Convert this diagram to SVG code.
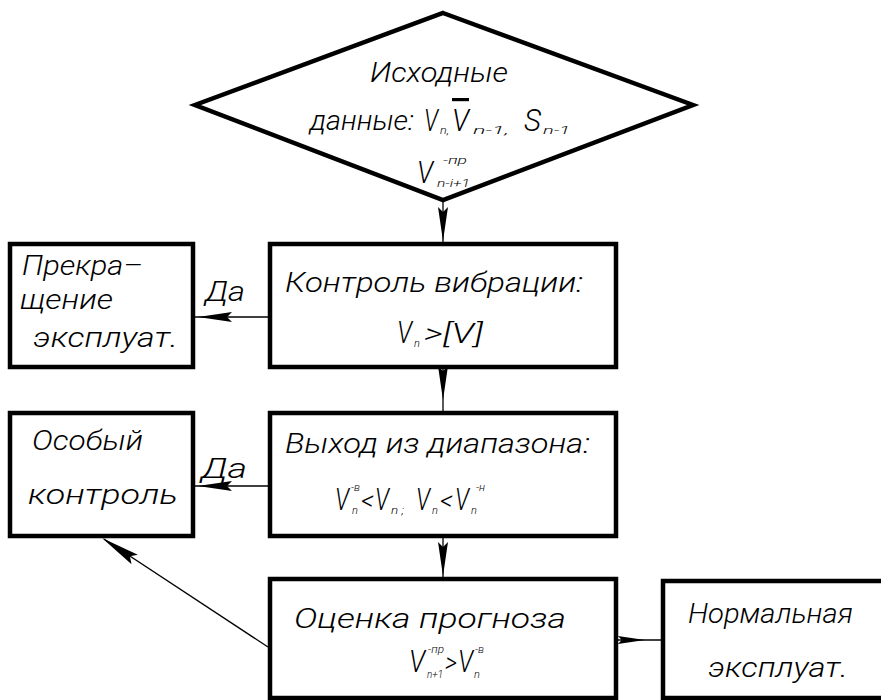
<svg xmlns="http://www.w3.org/2000/svg" xmlns:xlink="http://www.w3.org/1999/xlink" width="881" height="700" viewBox="0 0 881 700">
<style>
.box{fill:#fff;stroke:#000;stroke-width:4.5;stroke-linejoin:miter}
.t{font-family:Roboto,"Liberation Sans","DejaVu Sans",sans-serif;font-weight:300;font-style:italic;font-size:28px;fill:#000}
.v{font-family:Roboto,"Liberation Sans","DejaVu Sans",sans-serif;font-weight:300;font-style:italic;font-size:32px;fill:#000}
.sub{font-family:Roboto,"Liberation Sans","DejaVu Sans",sans-serif;font-weight:300;font-style:italic;font-size:11px;fill:#000}
.ln{stroke:#000;stroke-width:1.3;fill:none}
</style>
<defs>
<path id="ah" d="M0,0 L-34,-5 L-29,0 L-34,5 Z" fill="#000"/>
</defs>
<rect width="881" height="700" fill="#fff"/>

<g id="connectors">
<line class="ln" x1="443" y1="200" x2="443" y2="244"/>
<use xlink:href="#ah" transform="translate(443,241) rotate(90)"/>
<line class="ln" x1="443" y1="367" x2="443" y2="413"/>
<use xlink:href="#ah" transform="translate(443,400) rotate(90)"/>
<line class="ln" x1="443" y1="536" x2="443" y2="579"/>
<use xlink:href="#ah" transform="translate(443,576) rotate(90)"/>
<line class="ln" x1="270" y1="317" x2="193" y2="317"/>
<use xlink:href="#ah" transform="translate(198,317) rotate(180)"/>
<line class="ln" x1="270" y1="486" x2="193" y2="486"/>
<use xlink:href="#ah" transform="translate(198,486) rotate(180)"/>
<line class="ln" x1="616" y1="640" x2="663" y2="640"/>
<use xlink:href="#ah" transform="translate(645,640) scale(0.8)"/>
<line class="ln" x1="268" y1="647" x2="104" y2="539"/>
<use xlink:href="#ah" transform="translate(102,538) rotate(213.3) scale(1.15)"/>
<text class="t" x="205" y="301" textLength="40" lengthAdjust="spacingAndGlyphs">Да</text>
<text class="t" x="201" y="478" textLength="46" lengthAdjust="spacingAndGlyphs">Да</text>
</g>

<g id="start">
<polygon class="box" points="443,13 693,105 443,200 195,105"/>
<text class="t" x="370" y="82" textLength="138" lengthAdjust="spacingAndGlyphs">Исходные</text>
<text class="t" x="310" y="130" textLength="104" lengthAdjust="spacingAndGlyphs">данные:</text>
<text class="v" x="424" y="131" textLength="14" lengthAdjust="spacingAndGlyphs">V</text>
<text class="sub" x="440" y="134" textLength="9" lengthAdjust="spacingAndGlyphs">n,</text>
<text class="v" x="452" y="131" textLength="17" lengthAdjust="spacingAndGlyphs" style="text-decoration:overline">V</text>
<text class="sub" x="473" y="134" textLength="36" lengthAdjust="spacingAndGlyphs">n-1,</text>
<text class="v" x="524" y="131" textLength="17" lengthAdjust="spacingAndGlyphs">S</text>
<text class="sub" x="543" y="134" textLength="27" lengthAdjust="spacingAndGlyphs">n-1</text>
<text class="v" x="417" y="183" textLength="16" lengthAdjust="spacingAndGlyphs">V</text>
<text class="sub" x="443" y="164" textLength="24" lengthAdjust="spacingAndGlyphs">-пр</text>
<text class="sub" x="437" y="187" textLength="33" lengthAdjust="spacingAndGlyphs">n-i+1</text>
</g>

<g id="vibration">
<rect class="box" x="270" y="244" width="346" height="123"/>
<text class="t" x="285" y="292" textLength="298" lengthAdjust="spacingAndGlyphs">Контроль вибрации:</text>
<text class="v" x="397" y="343" textLength="15" lengthAdjust="spacingAndGlyphs">V</text>
<text class="sub" x="414" y="347">n</text>
<text class="t" x="424" y="343" textLength="59" lengthAdjust="spacingAndGlyphs">&gt;[V]</text>
</g>

<g id="stop">
<rect class="box" x="10" y="244" width="183" height="123"/>
<text class="t" x="22" y="275" textLength="121" lengthAdjust="spacingAndGlyphs">Прекра–</text>
<text class="t" x="20" y="309" textLength="93" lengthAdjust="spacingAndGlyphs">щение</text>
<text class="t" x="33" y="347" textLength="145" lengthAdjust="spacingAndGlyphs">эксплуат.</text>
</g>

<g id="range">
<rect class="box" x="270" y="413" width="346" height="123"/>
<text class="t" x="285" y="453" textLength="305" lengthAdjust="spacingAndGlyphs">Выход из диапазона:</text>
<text class="v" x="335" y="510" textLength="14" lengthAdjust="spacingAndGlyphs">V</text>
<text class="sub" x="351" y="491">-в</text>
<text class="sub" x="352" y="514">n</text>
<text class="t" x="361" y="510" textLength="13" lengthAdjust="spacingAndGlyphs">&lt;</text>
<text class="v" x="375" y="510" textLength="14" lengthAdjust="spacingAndGlyphs">V</text>
<text class="sub" x="391" y="514" textLength="13" lengthAdjust="spacingAndGlyphs">n ;</text>
<text class="v" x="416" y="510" textLength="14" lengthAdjust="spacingAndGlyphs">V</text>
<text class="sub" x="432" y="514">n</text>
<text class="t" x="440" y="510" textLength="13" lengthAdjust="spacingAndGlyphs">&lt;</text>
<text class="v" x="455" y="510" textLength="14" lengthAdjust="spacingAndGlyphs">V</text>
<text class="sub" x="471" y="514">n</text>
<text class="sub" x="476" y="491">-н</text>
</g>

<g id="special">
<rect class="box" x="10" y="413" width="183" height="123"/>
<text class="t" x="32" y="450" textLength="111" lengthAdjust="spacingAndGlyphs">Особый</text>
<text class="t" x="28" y="504" textLength="150" lengthAdjust="spacingAndGlyphs">контроль</text>
</g>

<g id="forecast">
<rect class="box" x="270" y="579" width="346" height="119"/>
<text class="t" x="294" y="628" textLength="272" lengthAdjust="spacingAndGlyphs">Оценка прогноза</text>
<text class="v" x="409" y="672" textLength="16" lengthAdjust="spacingAndGlyphs">V</text>
<text class="sub" x="428" y="653" textLength="16" lengthAdjust="spacingAndGlyphs">-пр</text>
<text class="sub" x="427" y="678" textLength="16" lengthAdjust="spacingAndGlyphs">n+1</text>
<text class="t" x="445" y="672" textLength="12" lengthAdjust="spacingAndGlyphs">&gt;</text>
<text class="v" x="458" y="672" textLength="15" lengthAdjust="spacingAndGlyphs">V</text>
<text class="sub" x="475" y="653">-в</text>
<text class="sub" x="474" y="678">n</text>
</g>

<g id="normal">
<rect class="box" x="663" y="581" width="240" height="117"/>
<text class="t" x="688" y="623" textLength="165" lengthAdjust="spacingAndGlyphs">Нормальная</text>
<text class="t" x="708" y="677" textLength="140" lengthAdjust="spacingAndGlyphs">эксплуат.</text>
</g>
</svg>
